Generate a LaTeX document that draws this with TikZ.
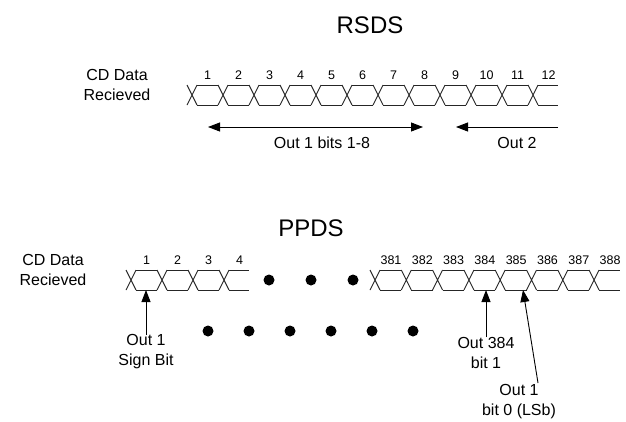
\documentclass[tikz,border=0pt]{standalone}
\usepackage{fontspec}
\setmainfont{Liberation Sans}
\usetikzlibrary{arrows.meta}
\begin{document}
\begin{tikzpicture}[x=1pt,y=-1pt,
  wire/.style={line width=0.9pt, black!85},
  lbl/.style={font=\fontsize{16}{20}\selectfont, align=center, inner sep=0pt},
  num/.style={font=\fontsize{12.5}{14}\selectfont, inner sep=0pt},
  ttl/.style={font=\fontsize{24}{28}\selectfont, inner sep=0pt},
  blob/.style={circle, fill=black, minimum size=11pt, inner sep=0pt},
  arr/.style={-{Triangle[length=12pt,width=9pt]}, line width=0.9pt}]
\useasboundingbox[fill=white] (0,0) rectangle (626,421);

% ---------- RSDS ----------
\node[ttl] (rsds) at (370,25) {RSDS};
\node[lbl] (cd1) at (117,85) {CD Data\\Recieved};
\foreach \k in {0,...,11}{
  \pgfmathsetmacro\xc{192+31*\k}
  \pgfmathsetmacro\xn{\k<11 ? 192+31*(\k+1)-5 : 558}
  \pgfmathtruncatemacro\nn{\k+1}
  \draw[wire] (\xc-5,85) -- (\xc+5,105) (\xc-5,105) -- (\xc+5,85);
  \draw[wire] (\xc+5,85) -- (\xn,85) (\xc+5,105) -- (\xn,105);
  \node[num] (t\nn) at (\xc+15.5,75) {\nn};
}
\coordinate (a1l) at (208,127);
\coordinate (a1r) at (423,127);
\coordinate (a2s) at (558,127);
\coordinate (a2t) at (456,127);
\draw[arr,{Triangle[length=12pt,width=9pt]}-{Triangle[length=12pt,width=9pt]}] (a1l) -- (a1r);
\draw[arr] (a2s) -- (a2t);
\node[lbl] (o1) at (322,143) {Out 1 bits 1-8};
\node[lbl] (o2) at (517,143) {Out 2};

% ---------- PPDS ----------
\node[ttl] (ppds) at (311,228) {PPDS};
\node[lbl] (cd2) at (53,270) {CD Data\\Recieved};
\foreach \k in {0,...,3}{
  \pgfmathsetmacro\xc{131+31*\k}
  \pgfmathsetmacro\xn{\k<3 ? 131+31*(\k+1)-5 : 249}
  \pgfmathtruncatemacro\nn{\k+1}
  \draw[wire] (\xc-5,270) -- (\xc+5,290) (\xc-5,290) -- (\xc+5,270);
  \draw[wire] (\xc+5,270) -- (\xn,270) (\xc+5,290) -- (\xn,290);
  \node[num] (p\nn) at (\xc+15.5,260) {\nn};
}
\foreach \k in {0,...,7}{
  \pgfmathsetmacro\xc{375+31.3*\k}
  \pgfmathsetmacro\xn{\k<7 ? 375+31.3*(\k+1)-5 : 620}
  \pgfmathtruncatemacro\nn{\k+381}
  \draw[wire] (\xc-5,270) -- (\xc+5,290) (\xc-5,290) -- (\xc+5,270);
  \draw[wire] (\xc+5,270) -- (\xn,270) (\xc+5,290) -- (\xn,290);
  \node[num] (p\nn) at (\xc+16,260) {\nn};
}
\foreach \x [count=\i] in {269,311,353}
  \node[blob] (u\i) at (\x,280) {};
\foreach \x [count=\i] in {208,249,290,331,372,413}
  \node[blob] (l\i) at (\x,331) {};

\node[lbl] (sb) at (146,352) {Out 1\\Sign Bit};
\node[lbl] (o384) at (486,353) {Out 384\\bit 1};
\node[lbl] (lsb) at (519,402) {Out 1\\bit 0 (LSb)};
\coordinate (sbt) at (146,290);
\coordinate (o384t) at (486,290);
\coordinate (lsbt) at (523,290);
\coordinate (lsbs) at (538,383);
\draw[arr] (sb.north) -- (sbt);
\draw[arr] (o384.north) -- (o384t);
\draw[arr] (lsbs) -- (lsbt);
\end{tikzpicture}
\end{document}
